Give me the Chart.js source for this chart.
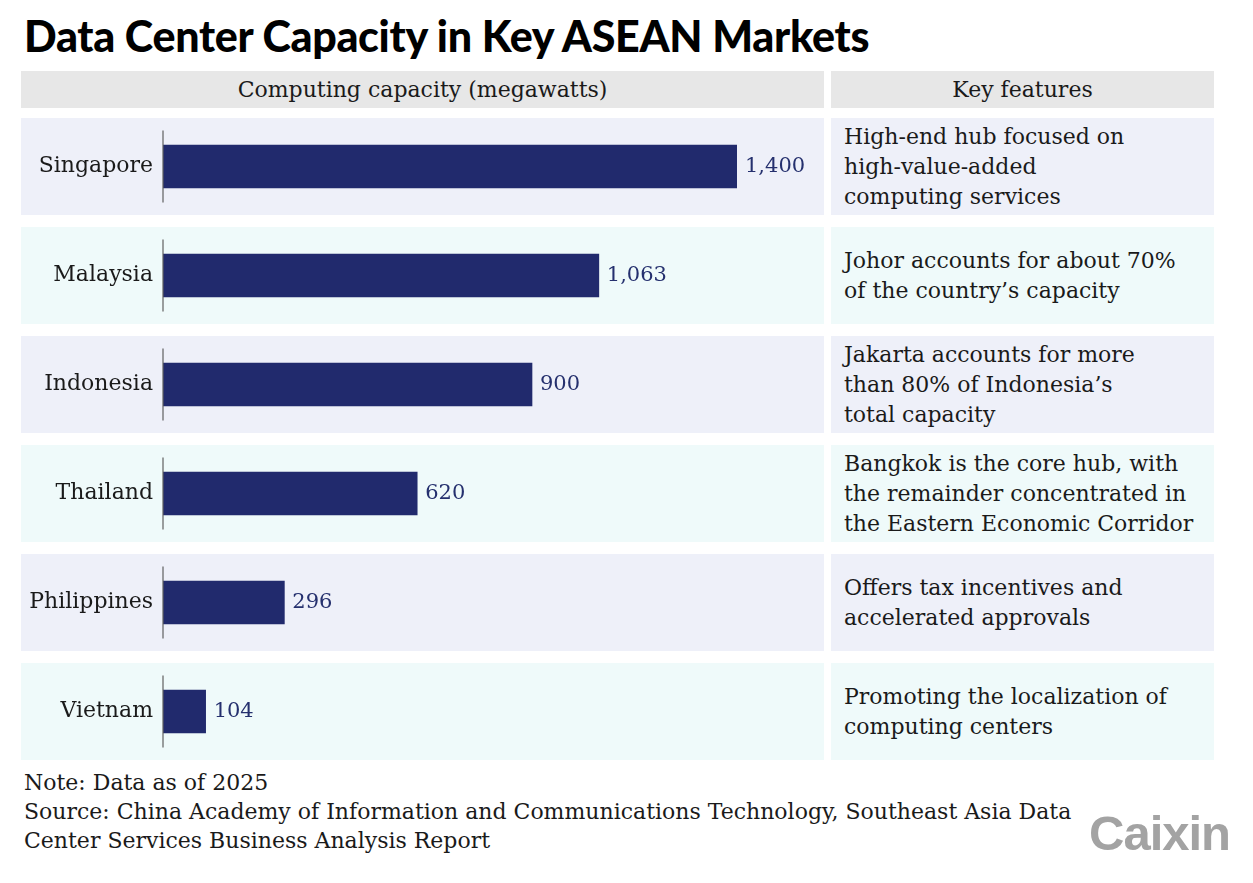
<!DOCTYPE html>
<html>
<head>
<meta charset="utf-8">
<script src="https://cdn.jsdelivr.net/npm/chart.js@4.4.1/dist/chart.umd.min.js"></script>
<style>
  html, body { margin: 0; padding: 0; background: #ffffff; }
  body { width: 1253px; height: 883px; position: relative; overflow: hidden; font-family: "DejaVu Serif", serif; color: #1a1a1a; }
  #title { position: absolute; left: 24px; top: 10px; font-family: Lato, sans-serif; font-weight: 900; font-size: 43px; color: #000; letter-spacing: -0.3px; white-space: nowrap; }
  .hdr { position: absolute; top: 71px; height: 37px; background: #e7e7e7; display: flex; align-items: center; justify-content: center; font-size: 22px; color: #1a1a1a; }
  .feat { position: absolute; left: 831px; width: 383px; height: 97px; box-sizing: border-box; padding-left: 13px; display: flex; align-items: center; font-size: 22px; line-height: 30px; color: #1a1a1a; white-space: nowrap; }
  #chartWrap { position: absolute; left: 21px; top: 112px; width: 803px; height: 654px; }
  #notes { position: absolute; left: 24px; top: 768px; font-size: 22px; line-height: 29px; color: #1a1a1a; white-space: nowrap; }
  #logo { position: absolute; left: 1089px; top: 805px; font-family: "Liberation Sans Narrow", "Liberation Sans", sans-serif; font-weight: bold; font-size: 49px; color: #a3a3a3; letter-spacing: -1px; }
</style>
</head>
<body>
<div id="title">Data Center Capacity in Key ASEAN Markets</div>
<div class="hdr" style="left:21px;width:803px;">Computing capacity (megawatts)</div>
<div class="hdr" style="left:831px;width:383px;">Key features</div>
<div id="chartWrap"><canvas id="c"></canvas></div>
<div id="feats"></div>
<div id="notes">Note: Data as of 2025<br>Source: China Academy of Information and Communications Technology, Southeast Asia Data<br>Center Services Business Analysis Report</div>
<div id="logo">Caixin</div>
<script>
const countries = ["Singapore", "Malaysia", "Indonesia", "Thailand", "Philippines", "Vietnam"];
const capacityMW = [1400, 1063, 900, 620, 296, 104];
const valueLabels = ["1,400", "1,063", "900", "620", "296", "104"];
const features = [
  ["High-end hub focused on", "high-value-added", "computing services"],
  ["Johor accounts for about 70%", "of the country\u2019s capacity"],
  ["Jakarta accounts for more", "than 80% of Indonesia\u2019s", "total capacity"],
  ["Bangkok is the core hub, with", "the remainder concentrated in", "the Eastern Economic Corridor"],
  ["Offers tax incentives and", "accelerated approvals"],
  ["Promoting the localization of", "computing centers"]
];

const rowColors = ["#eef0f9", "#effafa"];
const rowTops = [118, 227, 336, 445, 554, 663];

const featWrap = document.getElementById("feats");
features.forEach((lines, i) => {
  const d = document.createElement("div");
  d.className = "feat";
  d.style.top = rowTops[i] + "px";
  d.style.background = rowColors[i % 2];
  const inner = document.createElement("div");
  inner.innerHTML = lines.join("<br>");
  d.appendChild(inner);
  featWrap.appendChild(d);
});

const FONT = "DejaVu Serif";

const rowPlugin = {
  id: "rowPlugin",
  beforeDraw(chart) {
    const ctx = chart.ctx, y = chart.scales.y;
    ctx.save();
    countries.forEach((c, i) => {
      const cy = y.getPixelForValue(i);
      ctx.fillStyle = rowColors[i % 2];
      ctx.fillRect(0, cy - 48.5, chart.width, 97);
    });
    ctx.restore();
  },
  afterDatasetsDraw(chart) {
    const ctx = chart.ctx, y = chart.scales.y, x = chart.scales.x;
    const x0 = x.getPixelForValue(0);
    ctx.save();
    // per-row axis line
    ctx.strokeStyle = "#5f5f5f";
    ctx.lineWidth = 1.2;
    countries.forEach((c, i) => {
      const cy = y.getPixelForValue(i);
      ctx.beginPath();
      ctx.moveTo(x0, cy - 36);
      ctx.lineTo(x0, cy + 36);
      ctx.stroke();
    });
    // category labels
    ctx.textBaseline = "middle";
    ctx.fillStyle = "#1a1a1a";
    ctx.font = "22px '" + FONT + "'";
    ctx.textAlign = "right";
    countries.forEach((c, i) => {
      ctx.fillText(c, x0 - 10, y.getPixelForValue(i));
    });
    // value labels
    ctx.fillStyle = "#25306e";
    ctx.font = "21px '" + FONT + "'";
    ctx.textAlign = "left";
    const meta = chart.getDatasetMeta(0);
    meta.data.forEach((bar, i) => {
      ctx.fillText(valueLabels[i], bar.x + 8, bar.y);
    });
    ctx.restore();
  }
};

new Chart(document.getElementById("c"), {
  type: "bar",
  data: {
    labels: countries,
    datasets: [{
      data: capacityMW,
      backgroundColor: "#212a6d",
      barThickness: 43,
      borderWidth: 0
    }]
  },
  options: {
    indexAxis: "y",
    responsive: true,
    maintainAspectRatio: false,
    animation: false,
    layout: { padding: { left: 0, right: 87, top: 0, bottom: 0 } },
    plugins: { legend: { display: false }, tooltip: { enabled: false } },
    scales: {
      x: { display: false, min: 0, max: 1400 },
      y: {
        afterFit: s => { s.width = 142; },
        grid: { display: false },
        border: { display: false },
        ticks: { display: false }
      }
    }
  },
  plugins: [rowPlugin]
});
</script>
</body>
</html>
